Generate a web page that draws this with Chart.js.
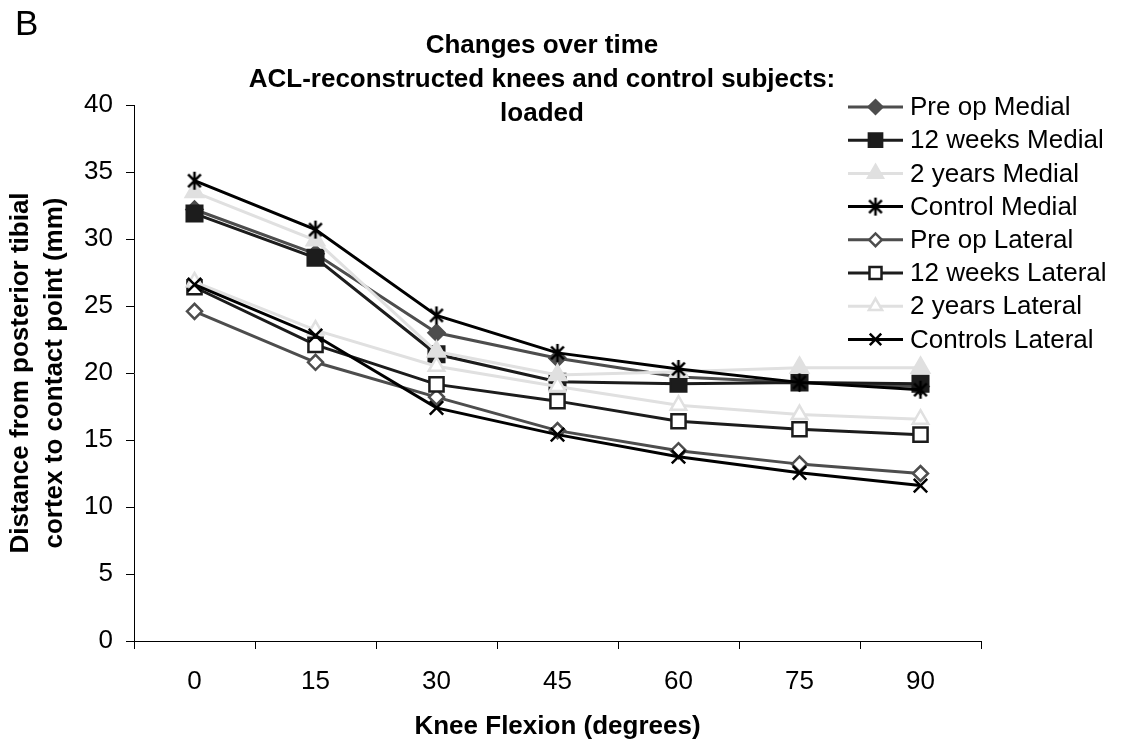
<!DOCTYPE html>
<html>
<head>
<meta charset="utf-8">
<script src="https://cdn.jsdelivr.net/npm/chart.js@4/dist/chart.umd.min.js"></script>
<style>
  body { margin: 0; background: #fff; }
  #wrap { width: 1123px; height: 742px; }
</style>
</head>
<body>
<div id="wrap"><canvas id="chart" width="1123" height="742"></canvas></div>
<script>
const FONT = "'Liberation Sans', Arial, sans-serif";

const flexionLabels = ['0', '15', '30', '45', '60', '75', '90'];

const preOpMedial = [32.2, 28.9, 23.0, 21.1, 19.7, 19.3, 19.0];
const weeks12Medial = [31.9, 28.6, 21.4, 19.35, 19.2, 19.3, 19.2];
const years2Medial = [33.5, 29.9, 21.6, 19.85, 20.1, 20.4, 20.4];
const controlMedial = [34.35, 30.7, 24.3, 21.5, 20.3, 19.3, 18.75];
const preOpLateral = [24.6, 20.8, 18.2, 15.7, 14.2, 13.2, 12.5];
const weeks12Lateral = [26.4, 22.1, 19.15, 17.9, 16.4, 15.8, 15.4];
const years2Lateral = [26.8, 23.2, 20.5, 19.0, 17.6, 16.9, 16.55];
const controlsLateral = [26.6, 22.8, 17.4, 15.4, 13.75, 12.55, 11.6];

const seriesNames = [
  'Pre op Medial', '12 weeks Medial', '2 years Medial', 'Control Medial',
  'Pre op Lateral', '12 weeks Lateral', '2 years Lateral', 'Controls Lateral',
];

const titleLines = ['Changes over time', 'ACL-reconstructed knees and control subjects:', 'loaded'];

// excel-style asterisk: an X with a vertical bar
function asterisk(r) {
  const c = document.createElement('canvas');
  c.width = c.height = r * 2 + 4;
  const g = c.getContext('2d');
  const m = r + 2;
  const d = r * Math.SQRT1_2;
  g.strokeStyle = '#000';
  g.lineWidth = 2.5;
  g.beginPath();
  g.moveTo(m, m - r); g.lineTo(m, m + r);
  g.moveTo(m - d, m - d); g.lineTo(m + d, m + d);
  g.moveTo(m - d, m + d); g.lineTo(m + d, m - d);
  g.stroke();
  return c;
}

function series(label, data, color, style, radius, filled) {
  return {
    label,
    data,
    borderColor: color,
    backgroundColor: color,
    borderWidth: 3,
    pointStyle: style,
    pointRadius: radius,
    pointHoverRadius: radius,
    pointBorderColor: color,
    pointBackgroundColor: filled ? color : '#fff',
    pointBorderWidth: 2.5,
    tension: 0,
  };
}

const datasets = [
  series(seriesNames[0], preOpMedial, '#4d4d4d', 'rectRot', 8, true),
  series(seriesNames[1], weeks12Medial, '#1c1c1c', 'rect', 11, true),
  series(seriesNames[2], years2Medial, '#e0e0e0', 'triangle', 10, true),
  series(seriesNames[3], controlMedial, '#000', asterisk(9), 9, false),
  series(seriesNames[4], preOpLateral, '#4d4d4d', 'rectRot', 7.5, false),
  series(seriesNames[5], weeks12Lateral, '#1c1c1c', 'rect', 10, false),
  series(seriesNames[6], years2Lateral, '#e0e0e0', 'triangle', 9, false),
  series(seriesNames[7], controlsLateral, '#000', 'crossRot', 9.5, false),
];
// excel paints the first series underneath
datasets.forEach((d, i) => { d.order = datasets.length - i; });

const textPlugin = {
  id: 'textPlugin',
  afterDraw(chart) {
    const ctx = chart.ctx;
    ctx.save();
    ctx.fillStyle = '#000';
    ctx.textBaseline = 'middle';

    ctx.font = '35px ' + FONT;
    ctx.textAlign = 'left';
    ctx.fillText('B', 15, 25);

    ctx.font = 'bold 26px ' + FONT;
    ctx.textAlign = 'center';
    titleLines.forEach((t, i) => ctx.fillText(t, 542, 46 + i * 34));

    // legend
    ctx.font = '26px ' + FONT;
    ctx.textAlign = 'left';
    chart.data.datasets.forEach((ds, i) => {
      const y = 107 + i * 33.2;
      ctx.strokeStyle = ds.borderColor;
      ctx.lineWidth = 3;
      ctx.beginPath();
      ctx.moveTo(848, y);
      ctx.lineTo(903, y);
      ctx.stroke();
      ctx.fillStyle = ds.pointBackgroundColor;
      ctx.strokeStyle = ds.pointBorderColor;
      ctx.lineWidth = 2.5;
      Chart.helpers.drawPoint(ctx, {
        pointStyle: ds.pointStyle,
        radius: ds.pointRadius * 0.85,
        rotation: 0,
        borderWidth: 2.5,
      }, 875.5, y);
      ctx.fillStyle = '#000';
      ctx.fillText(ds.label, 910, y + 1);
    });
    ctx.restore();
  },
};

new Chart(document.getElementById('chart'), {
  type: 'line',
  data: { labels: flexionLabels, datasets },
  plugins: [textPlugin],
  options: {
    responsive: false,
    animation: false,
    layout: { padding: { left: 0, right: 142, top: 105, bottom: 0 } },
    plugins: {
      legend: { display: false },
      title: { display: false },
      tooltip: { enabled: false },
    },
    scales: {
      x: {
        type: 'category',
        offset: true,
        afterFit(scale) { scale.height = 101; },
        grid: {
          offset: true,
          drawOnChartArea: false,
          tickLength: 8,
          color: '#000',
        },
        border: { color: '#000', width: 1 },
        ticks: {
          color: '#000',
          padding: 17,
          font: { family: FONT, size: 26 },
        },
        title: {
          display: true,
          text: 'Knee Flexion (degrees)',
          color: '#000',
          padding: { top: 0, bottom: 0 },
          font: { family: FONT, size: 26, weight: 'bold' },
        },
      },
      y: {
        min: 0,
        max: 40,
        afterFit(scale) { scale.width = 134; },
        grid: {
          drawOnChartArea: false,
          tickLength: 8,
          color: '#000',
        },
        border: { color: '#000', width: 1 },
        ticks: {
          stepSize: 5,
          color: '#000',
          padding: 13,
          font: { family: FONT, size: 26 },
        },
        title: {
          display: true,
          text: ['Distance from posterior tibial', 'cortex to contact point (mm)'],
          color: '#000',
          padding: { top: 4, bottom: 0 },
          font: { family: FONT, size: 26, weight: 'bold', lineHeight: '34px' },
        },
      },
    },
  },
});
</script>
</body>
</html>
